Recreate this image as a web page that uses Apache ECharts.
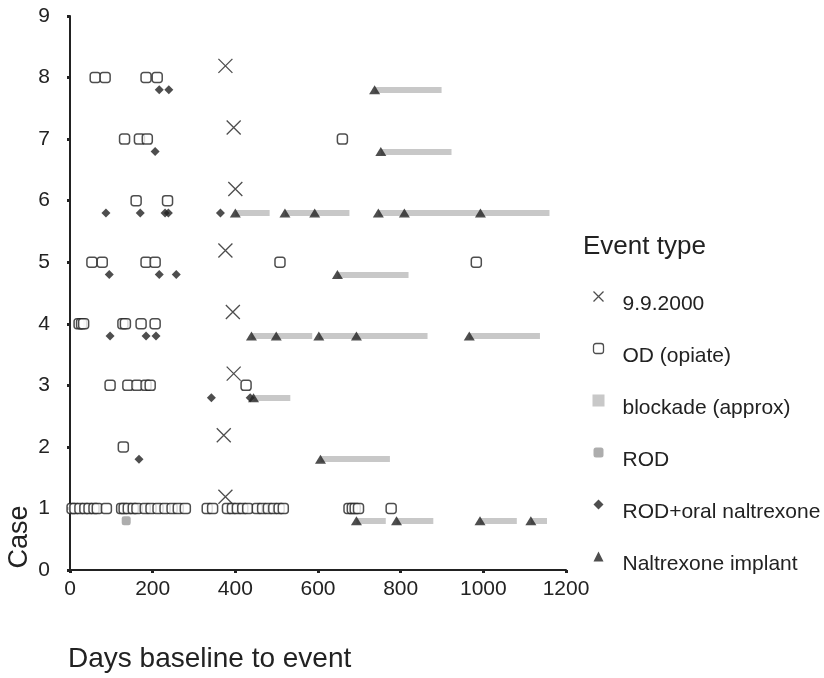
<!DOCTYPE html>
<html>
<head>
<meta charset="utf-8">
<script src="https://cdn.jsdelivr.net/npm/echarts@6/dist/echarts.min.js"></script>
<style>
  html, body { margin: 0; padding: 0; background: #fff; }
  #chart { width: 824px; height: 678px; }
</style>
</head>
<body>
<div id="chart"></div>
<script>
// values: [day, case]
const dateMarks = [[376, 1], [372, 2], [396, 3], [394, 4], [376, 5], [400, 6], [396, 7], [376, 8]]

const odCase1 = [5, 12, 24, 36, 46, 58, 66, 88, 125, 131, 141, 153, 162, 182, 196, 213, 230, 247, 262, 279,
  332, 345, 381, 393, 405, 418, 430, 453, 466, 480, 493, 506, 516, 675, 683, 690, 698, 777]
const odOther = [
  [129, 2],
  [97, 3], [140, 3], [162, 3], [184, 3], [194, 3], [426, 3],
  [22, 4], [28, 4], [33, 4], [128, 4], [134, 4], [172, 4], [206, 4],
  [53, 5], [78, 5], [184, 5], [206, 5], [508, 5], [983, 5],
  [160, 6], [236, 6],
  [132, 7], [168, 7], [187, 7], [659, 7],
  [61, 8], [85, 8], [184, 8], [211, 8]
]

const rodEvents = [[136, 1]]

const rodOral = [
  [167, 2],
  [342, 3], [436, 3],
  [97, 4], [184, 4], [208, 4],
  [95, 5], [216, 5], [257, 5],
  [87, 6], [170, 6], [230, 6], [238, 6], [364, 6],
  [206, 7],
  [216, 8], [239, 8]
]

const implants = [
  [693, 1], [790, 1], [992, 1], [1115, 1],
  [606, 2],
  [444, 3],
  [439, 4], [499, 4], [602, 4], [693, 4], [966, 4],
  [647, 5],
  [400, 6], [520, 6], [592, 6], [746, 6], [809, 6], [993, 6],
  [752, 7],
  [737, 8]
]

// blockade periods: [start, end, case]
const blockades = [
  [693, 764, 1], [790, 879, 1], [992, 1081, 1], [1115, 1154, 1],
  [606, 774, 2],
  [444, 533, 3],
  [439, 586, 4], [602, 865, 4], [966, 1137, 4],
  [647, 819, 5],
  [400, 483, 6], [520, 676, 6], [746, 1160, 6],
  [752, 923, 7],
  [737, 899, 8]
]

const xTicks = [0, 200, 400, 600, 800, 1000, 1200]
const yTicks = [0, 1, 2, 3, 4, 5, 6, 7, 8, 9]

const FONT = 'Liberation Sans, Arial, sans-serif'
const INK = '#222'
const UP = 0.19    // date mark sits above the case line
const DOWN = 0.2   // naltrexone events sit below it
const xPath = 'path://M0,0L10,10M10,0L0,10'

const odData = odCase1.map(d => [d, 1]).concat(odOther)

const chart = echarts.init(document.getElementById('chart'))
chart.setOption({
  animation: false,
  grid: { left: 70, right: 258, top: 16, bottom: 108 },
  xAxis: {
    type: 'value',
    min: xTicks[0],
    max: xTicks[xTicks.length - 1],
    interval: 200,
    axisLine: { lineStyle: { color: INK, width: 2 } },
    axisTick: { length: 3, lineStyle: { color: INK, width: 3 } },
    axisLabel: { color: INK, fontSize: 21, fontFamily: FONT, margin: 9, formatter: v => String(v) },
    splitLine: { show: false }
  },
  yAxis: {
    type: 'value',
    min: yTicks[0],
    max: yTicks[yTicks.length - 1],
    interval: 1,
    axisLine: { show: true, lineStyle: { color: INK, width: 2 } },
    axisTick: { show: true, length: 3, lineStyle: { color: INK, width: 3 } },
    axisLabel: { color: INK, fontSize: 21, fontFamily: FONT, margin: 20 },
    splitLine: { show: false }
  },
  legend: {
    orient: 'vertical',
    left: 591,
    top: 278,
    padding: 0,
    itemWidth: 10,
    itemHeight: 10,
    itemGap: 15,
    selectedMode: false,
    formatter: '{t|{name}}',
    textStyle: {
      color: INK, fontSize: 21, fontFamily: FONT,
      rich: { t: { color: INK, fontSize: 21, fontFamily: FONT, lineHeight: 22, padding: [16, 0, 0, 14] } }
    },
    data: [
      { name: '9.9.2000', icon: xPath, itemStyle: { color: 'none', borderColor: INK, borderWidth: 1.3 } },
      { name: 'OD (opiate)', icon: 'roundRect', itemStyle: { color: '#fff', borderColor: INK, borderWidth: 1.3 } },
      { name: 'blockade (approx)', icon: 'rect', itemStyle: { color: '#c8c8c8' } },
      { name: 'ROD', icon: 'roundRect', itemStyle: { color: '#999' } },
      { name: 'ROD+oral naltrexone', icon: 'diamond', itemStyle: { color: INK } },
      { name: 'Naltrexone implant', icon: 'triangle', itemStyle: { color: INK } }
    ]
  },
  graphic: [
    { type: 'text', left: 583, top: 234, style: { text: 'Event type', fontSize: 26, fontFamily: FONT, fill: INK } },
    { type: 'text', left: 68, top: 645, style: { text: 'Days baseline to event', fontSize: 28, fontFamily: FONT, fill: INK } },
    { type: 'text', x: 20, y: 537, rotation: Math.PI / 2,
      style: { text: 'Case', fontSize: 27, fontFamily: FONT, fill: INK, align: 'center', verticalAlign: 'middle' } }
  ],
  series: [
    {
      name: 'blockade (approx)',
      type: 'lines',
      coordinateSystem: 'cartesian2d',
      polyline: false,
      symbol: 'none',
      lineStyle: { color: '#c8c8c8', width: 6, opacity: 1 },
      itemStyle: { color: '#c8c8c8' },
      data: blockades.map(b => ({ coords: [[b[0], b[2] - DOWN], [b[1], b[2] - DOWN]] })),
      z: 1
    },
    {
      name: '9.9.2000',
      type: 'scatter',
      symbol: xPath,
      symbolSize: 14,
      itemStyle: { color: 'none', borderColor: INK, borderWidth: 1.3 },
      data: dateMarks.map(d => [d[0], d[1] + UP]),
      z: 3
    },
    {
      name: 'OD (opiate)',
      type: 'scatter',
      symbol: 'roundRect',
      symbolSize: [10, 10],
      itemStyle: { color: '#fff', borderColor: INK, borderWidth: 1.5 },
      data: odData,
      z: 3
    },
    {
      name: 'ROD',
      type: 'scatter',
      symbol: 'roundRect',
      symbolSize: 9,
      itemStyle: { color: '#999' },
      data: rodEvents.map(d => [d[0], d[1] - DOWN]),
      z: 3
    },
    {
      name: 'ROD+oral naltrexone',
      type: 'scatter',
      symbol: 'diamond',
      symbolSize: 9,
      itemStyle: { color: INK },
      data: rodOral.map(d => [d[0], d[1] - DOWN]),
      z: 3
    },
    {
      name: 'Naltrexone implant',
      type: 'scatter',
      symbol: 'triangle',
      symbolSize: [11, 9],
      itemStyle: { color: INK },
      data: implants.map(d => [d[0], d[1] - DOWN]),
      z: 4
    }
  ]
})
</script>
</body>
</html>
